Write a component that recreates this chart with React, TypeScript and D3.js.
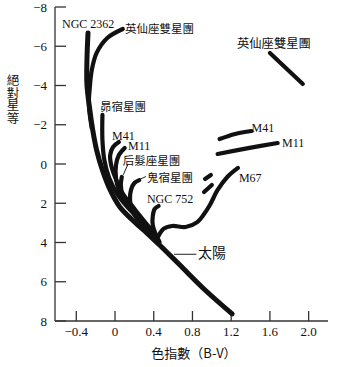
import React from "react";
import * as d3 from "d3";

type P = [number, number];

// Sequences: [B-V color index, absolute magnitude]
const mainSequence: P[] = [
  [-0.279, -6.68], [-0.29, -5.3], [-0.29, -4.03], [-0.26, -2.75], [-0.23, -1.73],
  [-0.19, -0.71], [-0.13, 0.31], [-0.05, 1.32], [0.05, 2.19], [0.19, 2.9],
  [0.33, 3.52], [0.46, 4.13], [0.67, 5.15], [0.93, 6.42], [1.21, 7.64],
];
const perseusBranch: P[] = [
  [0.08, -6.88], [-0.08, -6.42], [-0.19, -5.66], [-0.24, -4.79], [-0.26, -3.92], [-0.27, -3.01], [-0.24, -1.83],
];
const pleiades: P[] = [
  [-0.13, -2.5], [-0.13, -1.22], [-0.11, -0.2], [-0.06, 0.71], [0.03, 1.58], [0.155, 2.34], [0.31, 3.11],
];
const m41: P[] = [
  [0.04, -1.12], [-0.02, -0.87], [-0.05, -0.46], [-0.04, 0.05], [0.0, 0.66], [0.07, 1.43], [0.21, 2.34], [0.36, 3.26],
];
const m11: P[] = [
  [0.1, -0.82], [0.04, -0.46], [0.01, 0.05], [0.01, 0.71], [0.04, 1.32], [0.11, 1.99], [0.24, 2.7], [0.38, 3.36],
];
const coma: P[] = [
  [0.07, 0.66], [0.06, 1.07], [0.08, 1.63], [0.14, 2.14], [0.26, 2.8], [0.39, 3.41],
];
const praesepe: P[] = [
  [0.25, 0.82], [0.2, 0.97], [0.165, 1.32], [0.155, 1.83], [0.175, 2.34], [0.23, 2.8], [0.31, 3.26], [0.41, 3.67],
];
const ngc752: P[] = [
  [0.45, 2.14], [0.41, 2.29], [0.39, 2.65], [0.39, 3.11], [0.42, 3.57], [0.46, 3.97],
];
const m67: P[] = [
  [0.43, 3.87], [0.5, 3.31], [0.59, 3.16], [0.73, 3.21], [0.85, 2.96], [0.92, 2.55],
  [0.98, 2.09], [1.06, 1.32], [1.16, 0.66], [1.27, 0.2],
];
const m67DashA: P[] = [[0.92, 1.43], [1.0, 1.07]];
const m67DashB: P[] = [[0.93, 0.76], [0.99, 0.56]];
const m41Giants: P[] = [[1.08, -1.27], [1.24, -1.53], [1.41, -1.68]];
const m11Giants: P[] = [[1.06, -0.51], [1.39, -0.82], [1.68, -1.07]];
const perseusGiants: P[] = [[1.6, -5.66], [1.94, -4.08]];

const sequences: P[][] = [
  mainSequence, perseusBranch, pleiades, m41, m11, coma, praesepe, ngc752, m67,
  m67DashA, m67DashB, m41Giants, m11Giants, perseusGiants,
];

// Labels: text, anchor [B-V, M] (left / baseline), font size
const labelTexts = [
  "NGC 2362", "英仙座雙星團", "英仙座雙星團", "昴宿星團", "M41", "M11", "后髮座星團",
  "鬼宿星團", "NGC 752", "太陽", "M41", "M11", "M67",
];
const labelAnchors: P[] = [
  [-0.548, -6.93], [0.103, -6.68], [1.26, -5.9], [-0.155, -2.7], [-0.03, -1.22], [0.134, -0.72],
  [0.08, 0.06], [0.33, 0.92], [0.33, 1.99], [0.857, 4.79], [1.41, -1.63], [1.725, -0.87], [1.28, 0.92],
];
const labelSizes = [12, 11.5, 12.3, 11.5, 12, 12, 11.5, 11.5, 12, 14, 12, 12, 12];
const leaderLines: [P, P][] = [
  [[0.61, 4.6], [0.84, 4.6]],
  [[0.25, 0.79], [0.32, 0.64]],
  [[0.135, 0.0], [0.085, 0.55]],
];

const xTicks = [-0.4, 0, 0.4, 0.8, 1.2, 1.6, 2.0];
const yTicks = [-8, -6, -4, -2, 0, 2, 4, 6, 8];
const xDomain: [number, number] = [-0.62, 2.2];
const yDomain: [number, number] = [-8, 8];
const yTitle = "絕對星等";
const xTitle = "色指數（B-V）";

const W = 337;
const H = 367;
const serif = "'Liberation Serif', 'Times New Roman', serif";
const cjk = "'Noto Sans CJK TC', 'Noto Sans CJK SC', sans-serif";

export default function App() {
  const x = d3.scaleLinear().domain(xDomain).range([55, 328]);
  const y = d3.scaleLinear().domain(yDomain).range([7, 321]);
  const line = d3
    .line<P>()
    .x((d) => x(d[0]))
    .y((d) => y(d[1]))
    .curve(d3.curveCatmullRom.alpha(0.5));
  const isCJK = (t: string) => /[\u3400-\u9fff]/.test(t);
  const xFmt = (v: number) => (v === 0 ? "0" : (v < 0 ? "\u2212" : "") + Math.abs(v).toFixed(1));
  const yFmt = (v: number) => (v < 0 ? "\u2212" : "") + Math.abs(v);
  return (
    <svg
      width={W}
      height={H}
      style={{ position: "absolute", left: 0, top: 0, background: "#fff" }}
    >
      <rect width={W} height={H} fill="#fff" />
      {/* axes */}
      <line x1={55} y1={y(-8)} x2={55} y2={321} stroke="#333" strokeWidth={1.3} />
      <line x1={55} y1={321} x2={328} y2={321} stroke="#333" strokeWidth={1.3} />
      {yTicks.map((t) => (
        <g key={"y" + t}>
          <line x1={55} x2={66} y1={y(t)} y2={y(t)} stroke="#333" strokeWidth={1.3} />
          <text x={47} y={y(t) + 4.5} textAnchor="end" fontFamily={serif} fontSize={13} fill="#111">
            {yFmt(t)}
          </text>
        </g>
      ))}
      {xTicks.map((t) => (
        <g key={"x" + t}>
          <line x1={x(t)} x2={x(t)} y1={321} y2={311} stroke="#333" strokeWidth={1.3} />
          <text x={x(t)} y={336} textAnchor="middle" fontFamily={serif} fontSize={13} fill="#111">
            {xFmt(t)}
          </text>
        </g>
      ))}
      <text
        x={13}
        y={74}
        fontFamily={cjk}
        fontSize={12.5}
        fill="#111"
        style={{ writingMode: "vertical-rl", textOrientation: "upright" } as React.CSSProperties}
      >
        {yTitle}
      </text>
      <text x={194} y={358} textAnchor="middle" fontFamily={cjk} fontSize={13} fill="#111">
        {xTitle}
      </text>
      {/* sequences */}
      {sequences.map((s, i) => (
        <path
          key={"s" + i}
          d={line(s) || ""}
          fill="none"
          stroke="#111"
          strokeWidth={i === 0 ? 5 : 4.2}
          strokeLinecap="round"
          strokeLinejoin="round"
        />
      ))}
      {leaderLines.map((l, i) => (
        <line key={"l" + i} x1={x(l[0][0])} y1={y(l[0][1])} x2={x(l[1][0])} y2={y(l[1][1])} stroke="#222" strokeWidth={1} />
      ))}
      {labelTexts.map((t, i) => (
        <text
          key={"t" + i}
          x={x(labelAnchors[i][0])}
          y={y(labelAnchors[i][1])}
          fontFamily={isCJK(t) ? cjk : serif}
          fontSize={labelSizes[i]}
          fill="#111"
        >
          {t}
        </text>
      ))}
    </svg>
  );
}
